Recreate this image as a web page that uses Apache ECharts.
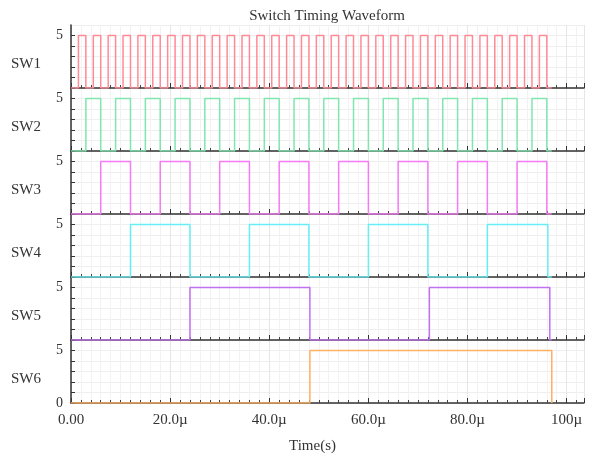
<!DOCTYPE html>
<html>
<head>
<meta charset="utf-8">
<script src="https://cdn.jsdelivr.net/npm/echarts@6/dist/echarts.min.js"></script>
<style>html,body{margin:0;padding:0;background:#fff}#c{width:593px;height:457px}</style>
</head>
<body>
<div id="c"></div>
<script>
// Signal names and colours
const names = ['SW1', 'SW2', 'SW3', 'SW4', 'SW5', 'SW6'];
const colors = ['#ff8a96', '#7fe6b0', '#f57af5', '#66eef6', '#c070f0', '#ffb060'];
// High intervals [start, end] in microseconds
const sw1High = [[1.5,3],[4.5,6],[7.5,9],[10.5,12],[13.5,15],[16.5,18],[19.5,21],[22.5,24],
  [25.5,27],[28.5,30],[31.5,33],[34.5,36],[37.5,39],[40.5,42],[43.5,45],[46.5,48],
  [49.5,51],[52.5,54],[55.5,57],[58.5,60],[61.5,63],[64.5,66],[67.5,69],[70.5,72],
  [73.5,75],[76.5,78],[79.5,81],[82.5,84],[85.5,87],[88.5,90],[91.5,93],[94.5,96]];
const sw2High = [[3,6],[9,12],[15,18],[21,24],[27,30],[33,36],[39,42],[45,48],
  [51,54],[57,60],[63,66],[69,72],[75,78],[81,84],[87,90],[93,96]];
const sw3High = [[6,12],[18,24],[30,36],[42,48],[54,60],[66,72],[78,84],[90,96]];
const sw4High = [[12,24],[36,48],[60,72],[84,96.2]];
const sw5High = [[24,48.2],[72.3,96.6]];
const sw6High = [[48.2,97]];
const highLevel = 5;
const endTime = 97;
// Axis ticks
const timeTicks = [0, 20, 40, 60, 80, 100];
const timeLabels = ['0.00', '20.0\u00b5', '40.0\u00b5', '60.0\u00b5', '80.0\u00b5', '100\u00b5'];

const allHigh = [sw1High, sw2High, sw3High, sw4High, sw5High, sw6High];

function wave(intervals) {
  const pts = [[0, 0]];
  intervals.forEach(([a, b]) => {
    pts.push([a, 0], [a, highLevel], [b, highLevel], [b, 0]);
  });
  pts.push([endTime, 0]);
  return pts;
}

const serif = 'Liberation Serif';
const grids = [], xAxes = [], yAxes = [], series = [];
const top0 = 25, h = 63;
names.forEach((n, i) => {
  const last = i === names.length - 1;
  grids.push({ left: 71, right: 9, top: top0 + i * h, height: h });
  xAxes.push({
    type: 'value', gridIndex: i, min: 0, max: 103.5, interval: 20,
    axisLine: { show: true, onZero: false, lineStyle: { color: '#333', width: 1.5 } },
    axisTick: { show: true, inside: true, length: 5, lineStyle: { color: '#333' } },
    minorTick: { show: true, splitNumber: 10, length: 3, lineStyle: { color: '#444' } },
    splitLine: { show: true, lineStyle: { color: '#e6e6e6', width: 1 } },
    minorSplitLine: { show: true, lineStyle: { color: '#f2f2f2', width: 1 } },
    axisLabel: {
      show: last, color: '#333', fontFamily: serif, fontSize: 15, margin: 10,
      formatter: v => { const k = timeTicks.indexOf(v); return k >= 0 ? timeLabels[k] : ''; }
    },
    name: last ? 'Time(s)' : '', nameLocation: 'middle', nameGap: 36,
    nameTextStyle: { color: '#333', fontFamily: serif, fontSize: 15, padding: [0, 30, 0, 0] }
  });
  yAxes.push({
    type: 'value', gridIndex: i, min: 0, max: 6, interval: 1,
    axisLine: { show: true, lineStyle: { color: '#333', width: 1.5 } },
    axisTick: { show: true, inside: true, length: 4, lineStyle: { color: '#333' } },
    splitLine: { show: true, lineStyle: { color: '#eeeeee', width: 1 } },
    axisLabel: {
      color: '#333', fontFamily: serif, fontSize: 14, margin: 8,
      showMinLabel: true, showMaxLabel: false,
      formatter: v => (v === 5 || (last && v === 0)) ? String(v) : ''
    },
    name: n, nameLocation: 'middle', nameGap: 30, nameRotate: 0,
    nameTextStyle: { color: '#333', fontFamily: serif, fontSize: 15, verticalAlign: 'top' }
  });
  series.push({
    type: 'line', xAxisIndex: i, yAxisIndex: i, data: wave(allHigh[i]),
    showSymbol: false, symbol: 'none', silent: true,
    lineStyle: { color: colors[i], width: 1.5 }
  });
});

const chart = echarts.init(document.getElementById('c'), null, { renderer: 'canvas' });
chart.setOption({
  animation: false,
  backgroundColor: '#fff',
  title: {
    text: 'Switch Timing Waveform', left: 322, textAlign: 'center', top: 4,
    textStyle: { color: '#333', fontFamily: serif, fontSize: 15, fontWeight: 'normal' }
  },
  grid: grids, xAxis: xAxes, yAxis: yAxes, series: series
});
</script>
</body>
</html>
